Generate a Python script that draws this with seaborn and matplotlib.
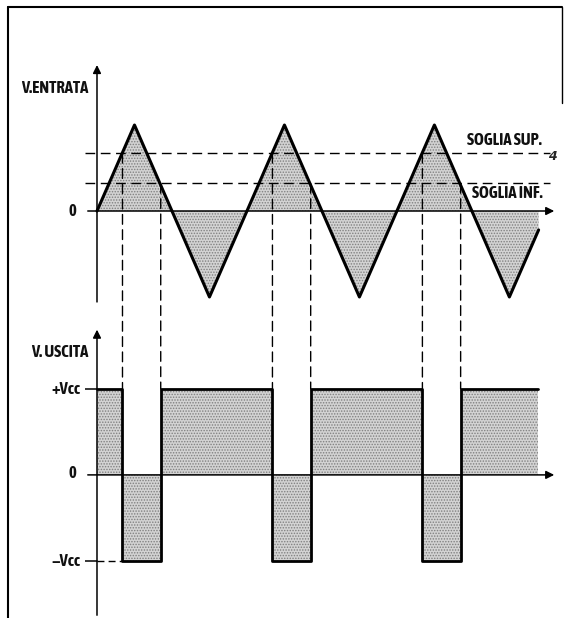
import numpy as np
import matplotlib
matplotlib.use('Agg')
import matplotlib.pyplot as plt
from matplotlib import font_manager
from matplotlib.lines import Line2D
from matplotlib.patches import ConnectionPatch
import seaborn as sns

# input triangle wave (x in quarter periods, y in units of the peak)
tri_x = [0, 1, 3, 5, 7, 9, 11, 11.78]
tri_y = [0, 1, -1, 1, -1, 1, -1, -0.22]

# thresholds
soglia_sup = 0.67
soglia_inf = 0.32

# switching instants
switch_down = [0.68, 4.68, 8.68]
switch_up = [1.70, 5.70, 9.70]

# output square wave (+Vcc = 1, -Vcc = -1)
sq_x = [0, 0.68, 1.70, 4.68, 5.70, 8.68, 9.70, 11.76]
sq_y = [1, -1, 1, -1, 1, -1, 1, 1]

sns.set_style('white')
plt.rcParams['font.family'] = ['DejaVu Sans']
plt.rcParams['hatch.linewidth'] = 0.7


def is_bold(w):
    if isinstance(w, (int, float)):
        return w >= 600
    return str(w).lower() in ('bold', 'heavy', 'black', 'demibold', 'semibold', 'extra bold')


# look for an upright condensed bold face, the labels are narrow in the original
fonts = font_manager.fontManager.ttflist
narrow_bold = sorted({f.name for f in fonts
                      if ('Narrow' in f.name or 'Condensed' in f.name or
                          f.stretch in ('condensed', 'semi-condensed'))
                      and is_bold(f.weight) and f.style == 'normal'})
if narrow_bold:
    fam = narrow_bold[0]
    tfont = dict(family=fam, fontweight='bold', fontstyle='normal', fontsize=12,
                 color='#111111')
    if fam == 'DejaVu Sans':
        tfont.update(fontstretch='condensed', fontsize=10)
else:
    tfont = dict(family='DejaVu Sans', fontweight='bold', fontsize=8.5, color='#111111')

fig = plt.figure(figsize=(5.72, 6.18), dpi=100)
ax1 = fig.add_axes([0.1486, 0.4984, 0.8304, 0.4126])
ax2 = fig.add_axes([0.1486, 0.0, 0.8304, 0.4822])

fill_kw = dict(facecolor='#d3d3d3', hatch='......', edgecolor='#808080', linewidth=0)
dash = (0, (7, 4))

# top panel
ax1.fill_between(tri_x, tri_y, 0, **fill_kw)
sns.lineplot(x=tri_x, y=tri_y, ax=ax1, color='black', linewidth=2.2,
             estimator=None, sort=False)
for thr in (soglia_sup, soglia_inf):
    ax1.plot([-0.32, 12.08], [thr, thr], color='black', lw=1.0, ls=dash)
ax1.annotate('', xy=(0, 1.73), xytext=(0, -1.09),
             arrowprops=dict(arrowstyle='-|>', lw=1.1, color='black', mutation_scale=12))
ax1.annotate('', xy=(12.27, 0), xytext=(-0.32, 0),
             arrowprops=dict(arrowstyle='-|>', lw=1.1, color='black', mutation_scale=12))
ax1.set_xlim(-0.32, 12.35)
ax1.set_ylim(-1.151, 1.814)

ax1.text(-0.24, 1.43, 'V.ENTRATA', ha='right', va='center', **tfont)
ax1.text(-0.55, 0, '0', ha='right', va='center', **tfont)
ax1.text(9.87, 0.83, 'SOGLIA SUP.', ha='left', va='center', **tfont)
ax1.text(10.0, 0.21, 'SOGLIA INF.', ha='left', va='center', **tfont)
ax1.text(12.16, 0.63, '4', ha='center', va='center', fontsize=9, fontweight='bold',
         style='italic')

# bottom panel
ax2.fill_between(sq_x, sq_y, 0, step='post', **fill_kw)
sns.lineplot(x=sq_x, y=sq_y, ax=ax2, color='black', linewidth=2.0,
             estimator=None, sort=False, drawstyle='steps-post')
ax2.plot([-0.32, 0], [1, 1], color='black', lw=1.1)
ax2.plot([-0.32, 0], [-1, -1], color='black', lw=1.1)
ax2.plot([0, switch_down[0]], [-1, -1], color='black', lw=1.0, ls=(0, (5, 3)))
ax2.annotate('', xy=(0, 1.72), xytext=(0, -1.663),
             arrowprops=dict(arrowstyle='-|>', lw=1.1, color='black', mutation_scale=12))
ax2.annotate('', xy=(12.27, 0), xytext=(-0.32, 0),
             arrowprops=dict(arrowstyle='-|>', lw=1.1, color='black', mutation_scale=12))
ax2.set_xlim(-0.32, 12.35)
ax2.set_ylim(-1.663, 1.80)

ax2.text(-0.24, 1.43, 'V. USCITA', ha='right', va='center', **tfont)
ax2.text(-0.45, 1, '+Vcc', ha='right', va='center', **tfont)
ax2.text(-0.55, 0.02, '0', ha='right', va='center', **tfont)
ax2.text(-0.45, -1, '\u2212Vcc', ha='right', va='center', **tfont)

for ax in (ax1, ax2):
    ax.set_axis_off()

# dashed guides from the thresholds down to the output edges
for xs in switch_down:
    fig.add_artist(ConnectionPatch(xyA=(xs, soglia_sup), coordsA=ax1.transData,
                                   xyB=(xs, 1), coordsB=ax2.transData,
                                   color='black', lw=1.0, ls=dash))
for xs in switch_up:
    fig.add_artist(ConnectionPatch(xyA=(xs, soglia_inf), coordsA=ax1.transData,
                                   xyB=(xs, 1), coordsB=ax2.transData,
                                   color='black', lw=1.0, ls=dash))

# page frame
fig.add_artist(Line2D([0.014, 0.014], [0.0, 0.988], color='black', lw=1.5))
fig.add_artist(Line2D([0.014, 0.983], [0.988, 0.988], color='black', lw=1.5))
fig.add_artist(Line2D([0.983, 0.983], [0.988, 0.833], color='black', lw=1.0))

fig.savefig('out.png', dpi=100, facecolor='white')
